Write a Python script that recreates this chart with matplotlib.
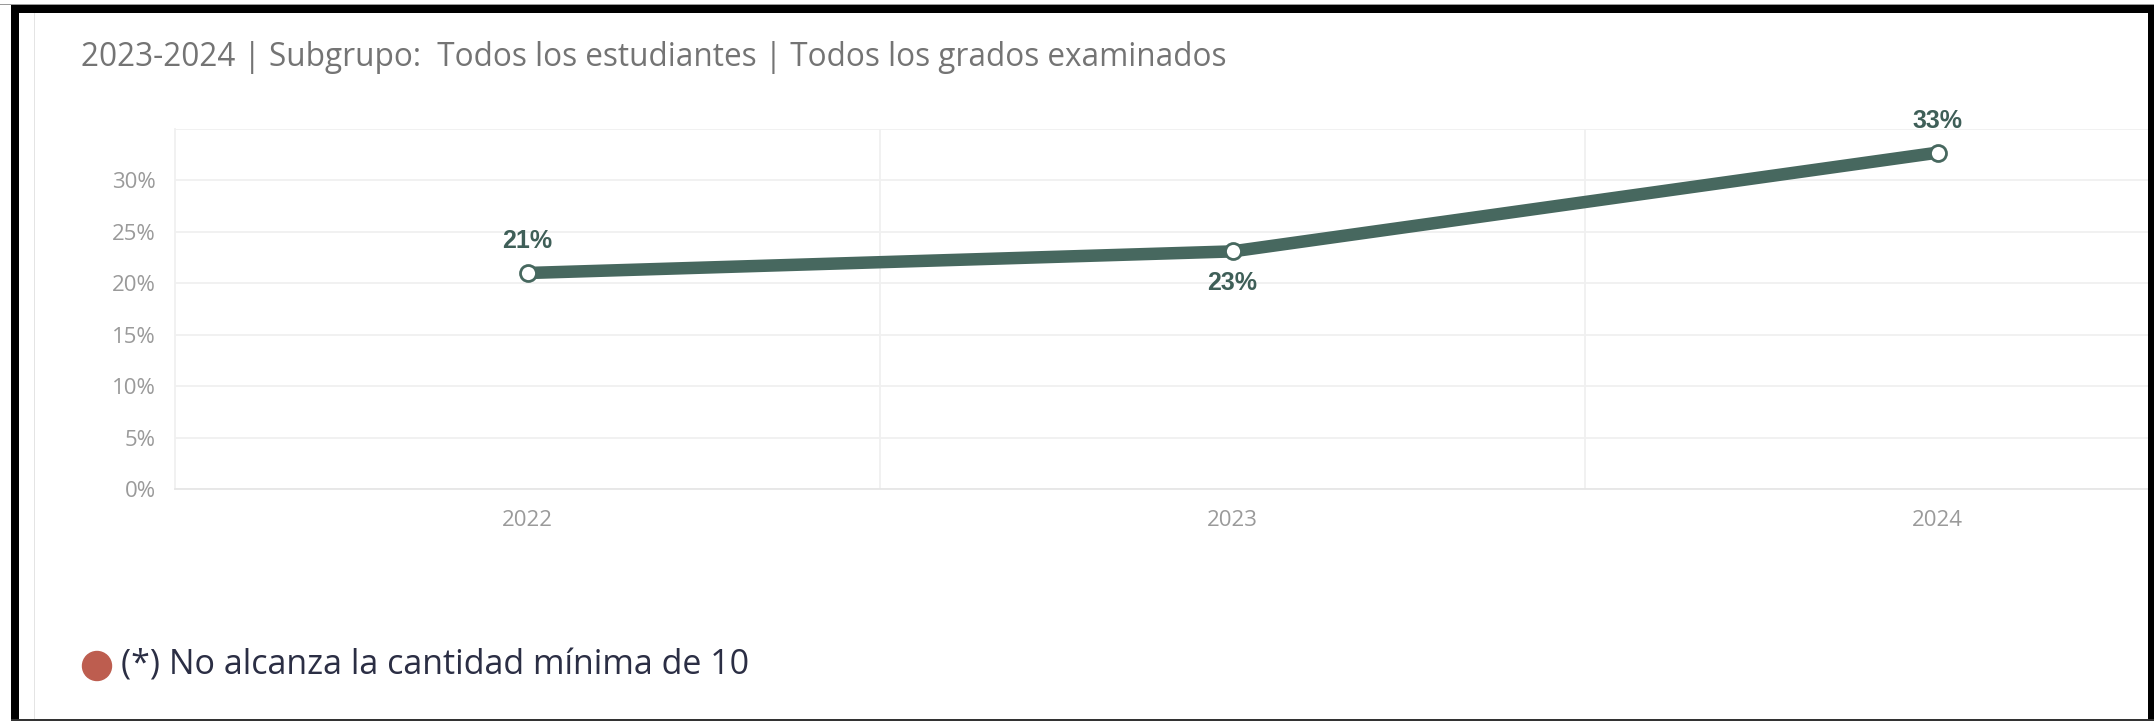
import matplotlib
matplotlib.use("Agg")
import matplotlib.pyplot as plt
from matplotlib.patches import Rectangle, Circle

# data
years = ["2022", "2023", "2024"]
values = [21.0, 23.1, 32.7]            # percent
point_labels = ["21%", "23%", "33%"]
label_side = [1, -1, 1]                # 1 = above the point, -1 = below
ytick_values = [0, 5, 10, 15, 20, 25, 30]
ytick_labels = ["0%", "5%", "10%", "15%", "20%", "25%", "30%"]
title = "2023-2024 | Subgrupo:  Todos los estudiantes | Todos los grados examinados"
note = "(*) No alcanza la cantidad mínima de 10"

W, H = 2154, 721
line_col = "#47685f"
grid_col = "#f0f0f0"

def fx(px):
    return px / W

def fy(py):
    return 1 - py / H

fig = plt.figure(figsize=(W / 100, H / 100), dpi=100)
fig.patch.set_facecolor("white")

# plot area (right part runs past the screenshot edge)
ax = fig.add_axes([fx(175), fy(489), 2115 / W, 360 / H])
x = list(range(len(years)))
ax.plot(x, values, color=line_col, lw=9, solid_capstyle="round", zorder=3)
ax.plot(x, values, "o", ms=11.5, mfc="white", mec=line_col, mew=2, zorder=4)

for xi, v, lab, side in zip(x, values, point_labels, label_side):
    ax.annotate(lab, (xi, v), xytext=(0, 23 * side), textcoords="offset points",
                ha="center", va="center", fontsize=18, fontweight="bold",
                family="Liberation Sans", color="#3f5f58", zorder=5)

ax.set_xlim(-0.5, len(years) - 0.5)
ax.set_ylim(0, 35)
ax.set_xticks(x)
ax.set_xticklabels(years)
ax.set_xticks([i + 0.5 for i in x], minor=True)
ax.set_yticks(ytick_values)
ax.set_yticklabels(ytick_labels)
ax.set_yticks([35], minor=True)
ax.grid(True, axis="y", which="both", color=grid_col, lw=1.3)
ax.grid(True, axis="x", which="minor", color=grid_col, lw=1.3)
ax.set_axisbelow(True)
ax.tick_params(which="both", length=0)
ax.tick_params(axis="y", pad=14, labelsize=16, labelcolor="#9a9a9a")
ax.tick_params(axis="x", pad=15, labelsize=16, labelcolor="#9a9a9a")
for lab in ax.get_xticklabels() + ax.get_yticklabels():
    lab.set_family("Open Sans")
for side in ["top", "right"]:
    ax.spines[side].set_visible(False)
ax.spines["left"].set_color(grid_col)
ax.spines["bottom"].set_color("#e6e6e6")
ax.spines["left"].set_linewidth(1.3)
ax.spines["bottom"].set_linewidth(1.3)

# title and footnote
fig.text(fx(81), fy(58), title, ha="left", va="center", fontsize=22.7,
         family="Open Sans", color="#747474")
fig.add_artist(Circle((97 / 100, (H - 666) / 100), 14.5 / 100,
                      transform=fig.dpi_scale_trans, color="#bd5d4f", zorder=5))
fig.text(fx(121), fy(666), note, ha="left", va="center", fontsize=24.5,
         family="Open Sans", color="#2b2e44")

# card edge and the screenshot frame
fig.add_artist(Rectangle((fx(34), 0), 1.2 / W, fy(13), transform=fig.transFigure,
                         color="#e4e4e4", lw=0))
fig.add_artist(Rectangle((0, fy(5)), 1, 1.5 / H, transform=fig.transFigure,
                         color="#9a9a9a", lw=0))
fig.add_artist(Rectangle((fx(11), fy(13)), 1, 8 / H, transform=fig.transFigure,
                         color="black", lw=0))
fig.add_artist(Rectangle((fx(11), 0), 8 / W, fy(5), transform=fig.transFigure,
                         color="black", lw=0))
fig.add_artist(Rectangle((fx(2148), 0), 6 / W, fy(5), transform=fig.transFigure,
                         color="black", lw=0))
fig.add_artist(Rectangle((fx(11), 0), 1, 2 / H, transform=fig.transFigure,
                         color="#333333", lw=0))

fig.savefig("out.png", dpi=100)
